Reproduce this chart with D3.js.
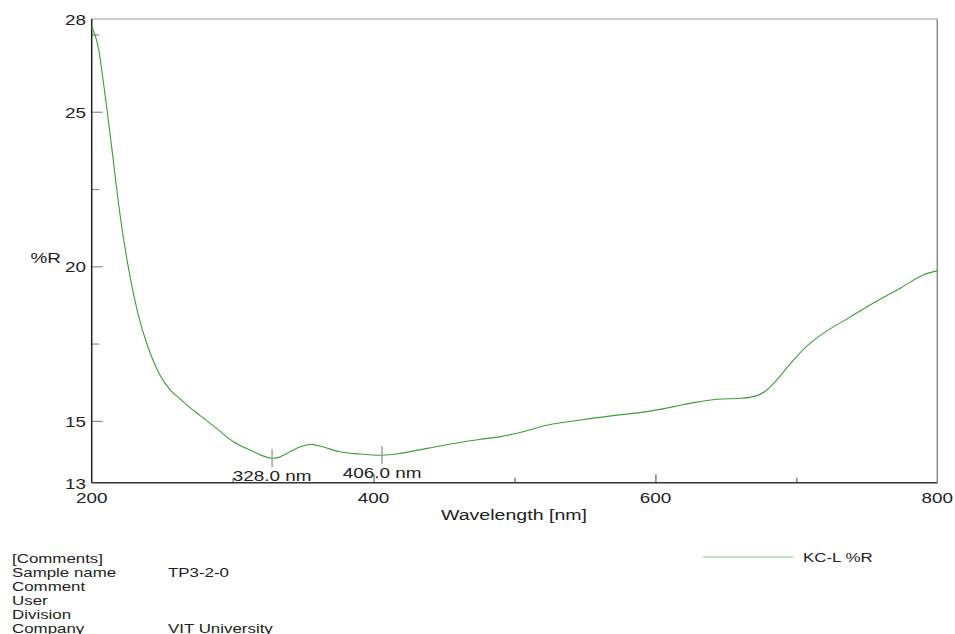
<!DOCTYPE html>
<html>
<head>
<meta charset="utf-8">
<script src="https://cdn.jsdelivr.net/npm/d3@7"></script>
<style>
  html, body { margin: 0; padding: 0; background: #fff; }
  svg { display: block; }
  text { font-family: "Liberation Sans", Arial, sans-serif; fill: #222; }
</style>
</head>
<body>
<svg id="chart" width="955" height="634"></svg>
<script>
// ---- data ----
const wavelength = [200, 205, 208, 211, 214, 217, 220, 224, 228, 233, 240, 248, 256, 263, 270, 277, 289, 300, 315, 322, 328, 332, 336, 342, 348, 356, 364, 376, 390, 406, 419, 438, 457, 475, 490, 506, 523, 547, 570, 594, 613, 627, 644, 660, 671, 679, 686, 695, 707, 719, 736, 755, 774, 790, 800];
const reflectance = [27.75, 27.0, 26.05, 25.02, 23.92, 22.78, 21.7, 20.5, 19.48, 18.44, 17.38, 16.52, 15.99, 15.70, 15.42, 15.17, 14.74, 14.34, 14.00, 13.86, 13.79, 13.81, 13.89, 14.03, 14.16, 14.24, 14.16, 14.00, 13.93, 13.89, 13.95, 14.11, 14.27, 14.40, 14.49, 14.65, 14.86, 15.03, 15.17, 15.30, 15.46, 15.59, 15.70, 15.73, 15.80, 16.0, 16.32, 16.81, 17.40, 17.83, 18.30, 18.82, 19.30, 19.72, 19.86];
const peakWavelengths = [328, 406];
const peakLabels = ["328.0 nm", "406.0 nm"];
const yLabelValues = [28, 25, 20, 15, 13];
const yMajorTicks = [25, 20, 15];
const yMinorTicks = [27.5, 22.5, 17.5];
const xLabelValues = [200, 400, 600, 800];
const xMajorTicks = [400, 600];
const xMinorTicks = [300, 500, 700];
const xTitle = "Wavelength [nm]";
const yTitle = "%R";
const legendLabel = "KC-L %R";
const commentKeys = ["[Comments]", "Sample name", "Comment", "User", "Division", "Company"];
const commentValues = ["", "TP3-2-0", "", "", "", "VIT University"];

// ---- drawing ----
const svg = d3.select("#chart");
const x = d3.scaleLinear().domain([200, 800]).range([91.7, 937.3]);
const y = d3.scaleLinear().domain([13, 28]).range([482.7, 19]);
const SX = 1.35;
const green = "#3a9d3a";

function stretchedText(g, tx, ty, str, anchor, size, sx) {
  return g.append("text")
    .attr("transform", `translate(${tx},${ty}) scale(${sx || SX},1)`)
    .attr("text-anchor", anchor)
    .style("font-size", size + "px")
    .text(str);
}

// frame: top and right (gray)
svg.append("line").attr("x1", x(200)).attr("x2", x(800)).attr("y1", y(28)).attr("y2", y(28))
  .attr("stroke", "#9a9a9a").attr("stroke-width", 1.2);
svg.append("line").attr("x1", x(800)).attr("x2", x(800)).attr("y1", y(28)).attr("y2", y(13))
  .attr("stroke", "#8a8a8a").attr("stroke-width", 1.5);

// y axis ticks via d3 axis (inward)
const yMajorAxis = d3.axisLeft(y).tickValues(yMajorTicks).tickSize(-11).tickFormat("");
const yMinorAxis = d3.axisLeft(y).tickValues(yMinorTicks).tickSize(-7.5).tickFormat("");
[yMajorAxis, yMinorAxis].forEach(ax => {
  const g = svg.append("g").attr("transform", `translate(${x(200)},0)`).call(ax);
  g.select(".domain").remove();
  g.selectAll(".tick line").attr("stroke", "#8c8c8c").attr("stroke-width", 1.2);
});
// x axis ticks (inward)
const xMajorAxis = d3.axisBottom(x).tickValues(xMajorTicks).tickSize(-8.5).tickFormat("");
const xMinorAxis = d3.axisBottom(x).tickValues(xMinorTicks).tickSize(-5).tickFormat("");
[xMajorAxis, xMinorAxis].forEach(ax => {
  const g = svg.append("g").attr("transform", `translate(0,${y(13)})`).call(ax);
  g.select(".domain").remove();
  g.selectAll(".tick line").attr("stroke", "#555").attr("stroke-width", 1.1);
});

// main axes lines (dark)
svg.append("line").attr("x1", x(200)).attr("x2", x(200)).attr("y1", y(28)).attr("y2", y(13))
  .attr("stroke", "#222").attr("stroke-width", 1.5);
svg.append("line").attr("x1", x(200)).attr("x2", x(800)).attr("y1", y(13)).attr("y2", y(13))
  .attr("stroke", "#333").attr("stroke-width", 1.5);

// tick labels
const labels = svg.append("g");
yLabelValues.forEach(v => stretchedText(labels, 86, y(v) + 6, String(v), "end", 14));
xLabelValues.forEach(v => stretchedText(labels, x(v), 503, String(v), "middle", 14));
stretchedText(labels, 514, 520, xTitle, "middle", 14.5);
stretchedText(labels, 30.5, 263, yTitle, "start", 14);

// curve
const data = wavelength.map((w, i) => ({ w, r: reflectance[i] }));
const line = d3.line().x(d => x(d.w)).y(d => y(d.r)).curve(d3.curveMonotoneX);
svg.append("path").datum(data).attr("d", line)
  .attr("fill", "none").attr("stroke", green).attr("stroke-width", 1.1);

// peak markers
const interp = w => {
  const i = d3.bisectLeft(wavelength, w);
  if (wavelength[i] === w) return reflectance[i];
  const t = (w - wavelength[i - 1]) / (wavelength[i] - wavelength[i - 1]);
  return reflectance[i - 1] + t * (reflectance[i] - reflectance[i - 1]);
};
peakWavelengths.forEach((w, i) => {
  const py = y(interp(w));
  svg.append("line").attr("x1", x(w)).attr("x2", x(w)).attr("y1", py - 9).attr("y2", py + 9)
    .attr("stroke", "#a0a0a0").attr("stroke-width", 1.5);
  stretchedText(svg, x(w), py + 22.5, peakLabels[i], "middle", 14);
});

// legend
svg.append("line").attr("x1", 703).attr("x2", 793).attr("y1", 557).attr("y2", 557)
  .attr("stroke", "#7fc47f").attr("stroke-width", 1.2);
stretchedText(svg, 803, 562, legendLabel, "start", 13, 1.3);

// comments block
commentKeys.forEach((k, i) => {
  const by = 562.7 + i * 14;
  stretchedText(svg, 12, by, k, "start", 13, 1.3);
  if (commentValues[i]) stretchedText(svg, 168, by, commentValues[i], "start", 13, 1.3);
});
</script>
</body>
</html>
